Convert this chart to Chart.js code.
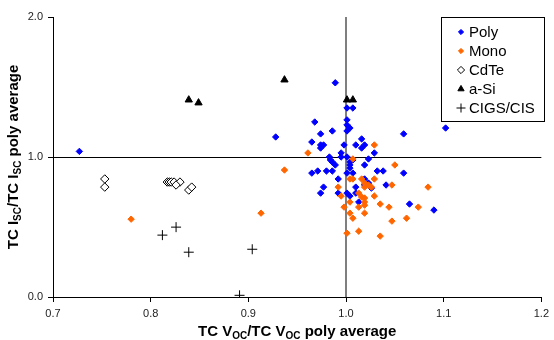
<!DOCTYPE html>
<html>
<head>
<meta charset="utf-8">
<script src="https://cdn.jsdelivr.net/npm/chart.js@4/dist/chart.umd.min.js"></script>
<style>
  html, body { margin: 0; padding: 0; background: #fff; }
  #wrap { width: 554px; height: 340px; position: relative; }
</style>
</head>
<body>
<div id="wrap"><canvas id="chart"></canvas></div>
<script>
// values: [TC Voc ratio, TC Isc ratio]
const polyPoints = [
  [0.727, 1.04], [0.989, 1.53], [1.001, 1.35], [1.007, 1.35], [0.968, 1.25],
  [1.001, 1.265], [1.001, 1.229], [1.004, 1.207], [1.001, 1.186], [0.974, 1.165],
  [0.986, 1.186], [0.928, 1.143], [1.059, 1.165], [0.965, 1.107], [0.974, 1.086],
  [0.977, 1.086], [0.974, 1.064], [0.998, 1.086], [1.016, 1.129], [1.010, 1.086],
  [1.019, 1.086], [1.016, 1.064], [1.029, 1.029], [0.995, 1.029], [0.995, 1.0],
  [1.001, 1.0], [0.983, 1.0], [0.984, 0.979], [0.986, 0.964], [0.989, 0.943],
  [1.023, 0.986], [1.004, 0.964], [1.004, 0.943], [1.004, 0.921], [1.019, 0.943],
  [1.032, 0.90], [1.038, 0.90], [0.965, 0.885], [0.971, 0.90], [0.980, 0.90],
  [0.986, 0.90], [1.001, 0.885], [1.007, 0.885], [1.059, 0.885], [0.992, 0.843],
  [1.019, 0.843], [1.023, 0.814], [1.019, 0.80], [1.041, 0.80], [0.977, 0.785],
  [0.974, 0.742], [0.992, 0.742], [1.001, 0.742], [1.004, 0.721], [1.010, 0.785],
  [1.010, 0.742], [1.026, 0.778], [1.013, 0.678], [1.065, 0.664], [1.090, 0.621],
  [1.102, 1.207], [1.007, 0.979]
];
const monoPoints = [
  [0.780, 0.556], [0.913, 0.599], [0.937, 0.907], [0.961, 1.029], [1.029, 1.086],
  [1.007, 0.986], [1.050, 0.943], [1.007, 0.843], [1.016, 0.843], [1.029, 0.843],
  [1.019, 0.814], [1.023, 0.80], [1.026, 0.785], [1.019, 0.785], [1.047, 0.80],
  [1.084, 0.785], [0.992, 0.785], [0.995, 0.721], [1.013, 0.742], [1.016, 0.714],
  [1.019, 0.707], [1.019, 0.678], [1.019, 0.656], [1.019, 0.599], [1.029, 0.721],
  [1.004, 0.678], [1.035, 0.664], [1.044, 0.642], [1.074, 0.642], [0.998, 0.642],
  [1.013, 0.642], [1.004, 0.599], [1.007, 0.563], [1.047, 0.542], [1.062, 0.563],
  [1.001, 0.456], [1.013, 0.470], [1.035, 0.435], [1.004, 0.843]
];
const cdtePoints = [
  [0.753, 0.843], [0.753, 0.785], [0.817, 0.821], [0.819, 0.821], [0.821, 0.821],
  [0.824, 0.821], [0.830, 0.821], [0.826, 0.80], [0.839, 0.764], [0.842, 0.785]
];
const asiPoints = [
  [0.839, 1.408], [0.849, 1.387], [0.937, 1.551], [1.001, 1.408], [1.007, 1.408]
];
const cigsPoints = [
  [0.812, 0.442], [0.826, 0.499], [0.839, 0.320], [0.891, 0.012], [0.904, 0.341]
];

const seriesNames = ["Poly", "Mono", "CdTe", "a-Si", "CIGS/CIS"];
const xTicks = [0.7, 0.8, 0.9, 1.0, 1.1, 1.2];
const xTickLabels = ["0.7", "0.8", "0.9", "1.0", "1.1", "1.2"];
const yTicks = [0, 1, 2];
const yTickLabels = ["0.0", "1.0", "2.0"];

const toXY = (arr) => arr.map((p) => ({ x: p[0], y: p[1] }));

// marker styles, used by both the datasets and the legend box
const styles = [
  { pointStyle: "rectRot", radius: 3.2, bg: "#0000ff", border: "#0000ff", bw: 1 },
  { pointStyle: "rectRot", radius: 3.2, bg: "#ff6600", border: "#ff6600", bw: 1 },
  { pointStyle: "rectRot", radius: 4.2, bg: "#ffffff", border: "#000000", bw: 1 },
  { pointStyle: "triangle", radius: 4.2, bg: "#000000", border: "#000000", bw: 1 },
  { pointStyle: "cross", radius: 5, bg: "#000000", border: "#000000", bw: 1 }
];
const allPoints = [polyPoints, monoPoints, cdtePoints, asiPoints, cigsPoints];

const datasets = allPoints.map((pts, i) => ({
  label: seriesNames[i],
  data: toXY(pts),
  pointStyle: styles[i].pointStyle,
  pointRadius: styles[i].radius,
  pointHoverRadius: styles[i].radius,
  backgroundColor: styles[i].bg,
  borderColor: styles[i].border,
  borderWidth: styles[i].bw,
  order: 5 - i
}));

// draw a title with subscript pieces
function drawRich(ctx, parts, size) {
  const big = "bold " + size + "px Arial, 'Liberation Sans', sans-serif";
  const small = "bold " + Math.round(size * 0.66) + "px Arial, 'Liberation Sans', sans-serif";
  let total = 0;
  parts.forEach((p) => {
    ctx.font = p.sub ? small : big;
    total += ctx.measureText(p.t).width;
  });
  let x = -total / 2;
  parts.forEach((p) => {
    ctx.font = p.sub ? small : big;
    ctx.fillText(p.t, x, p.sub ? 3 : 0);
    x += ctx.measureText(p.t).width;
  });
}

const xTitle = [
  { t: "TC V" }, { t: "OC", sub: true }, { t: "/TC V" }, { t: "OC", sub: true }, { t: " poly average" }
];
const yTitle = [
  { t: "TC I" }, { t: "SC", sub: true }, { t: "/TC I" }, { t: "SC", sub: true }, { t: " poly average" }
];

const extras = {
  id: "extras",
  beforeDatasetsDraw(chart) {
    const { ctx, chartArea, scales } = chart;
    const x1 = scales.x.getPixelForValue(1.0);
    const y1 = scales.y.getPixelForValue(1.0);
    ctx.save();
    ctx.strokeStyle = "#000";
    ctx.lineWidth = 1;
    ctx.beginPath();
    ctx.moveTo(chartArea.left, Math.round(y1) + 0.5);
    ctx.lineTo(chartArea.right, Math.round(y1) + 0.5);
    ctx.stroke();
    ctx.strokeStyle = "#7f7f7f";
    ctx.lineWidth = 2;
    ctx.beginPath();
    ctx.moveTo(Math.round(x1), chartArea.top);
    ctx.lineTo(Math.round(x1), chartArea.bottom);
    ctx.stroke();
    ctx.restore();
  },
  afterDraw(chart) {
    const { ctx, chartArea } = chart;
    ctx.save();
    ctx.fillStyle = "#000";
    ctx.textBaseline = "alphabetic";
    // axis titles
    ctx.save();
    ctx.translate((chartArea.left + chartArea.right) / 2, 336);
    drawRich(ctx, xTitle, 15);
    ctx.restore();
    ctx.save();
    ctx.translate(18, (chartArea.top + chartArea.bottom) / 2);
    ctx.rotate(-Math.PI / 2);
    drawRich(ctx, yTitle, 15);
    ctx.restore();

    // legend box
    const bx = 441, by = 17, bw = 103, bh = 104;
    ctx.fillStyle = "#fff";
    ctx.fillRect(bx, by, bw, bh);
    ctx.strokeStyle = "#000";
    ctx.lineWidth = 1;
    ctx.strokeRect(bx + 0.5, by + 0.5, bw, bh);
    ctx.font = "15px Arial, 'Liberation Sans', sans-serif";
    ctx.textBaseline = "middle";
    seriesNames.forEach((name, i) => {
      const y = 32 + i * 19;
      const s = styles[i];
      ctx.fillStyle = s.bg;
      ctx.strokeStyle = s.border;
      ctx.lineWidth = s.bw;
      const r = i < 2 ? 2.6 : (i === 4 ? 4.5 : 3.6);
      Chart.helpers.drawPoint(ctx, { pointStyle: s.pointStyle, radius: r, rotation: 0, borderWidth: s.bw }, 461, y);
      ctx.fillStyle = "#000";
      ctx.fillText(name, 469, y + 1);
    });
    ctx.restore();
  }
};

new Chart(document.getElementById("chart"), {
  type: "scatter",
  data: { datasets },
  options: {
    responsive: true,
    maintainAspectRatio: false,
    animation: false,
    events: [],
    layout: { padding: { top: 17, right: 10, left: 0, bottom: 0 } },
    plugins: { legend: { display: false }, tooltip: { enabled: false } },
    scales: {
      x: {
        type: "linear",
        min: 0.7,
        max: 1.2,
        afterBuildTicks: (scale) => { scale.ticks = xTicks.map((v) => ({ value: v })); },
        afterFit: (scale) => { scale.height = 43; },
        ticks: {
          callback: (v) => xTickLabels[xTicks.findIndex((t) => Math.abs(t - v) < 1e-9)],
          font: { family: "Arial, 'Liberation Sans', sans-serif", size: 11 },
          color: "#222",
          padding: 5,
          maxRotation: 0
        },
        grid: { drawOnChartArea: false, tickLength: 5, color: "#000" },
        border: { color: "#000", width: 1 }
      },
      y: {
        type: "linear",
        min: 0,
        max: 2,
        afterBuildTicks: (scale) => { scale.ticks = yTicks.map((v) => ({ value: v })); },
        afterFit: (scale) => { scale.width = 53; },
        ticks: {
          callback: (v) => yTickLabels[yTicks.indexOf(v)],
          font: { family: "Arial, 'Liberation Sans', sans-serif", size: 11 },
          color: "#222",
          padding: 5
        },
        grid: { drawOnChartArea: false, tickLength: 5, color: "#000" },
        border: { color: "#000", width: 1 }
      }
    }
  },
  plugins: [extras]
});
</script>
</body>
</html>
